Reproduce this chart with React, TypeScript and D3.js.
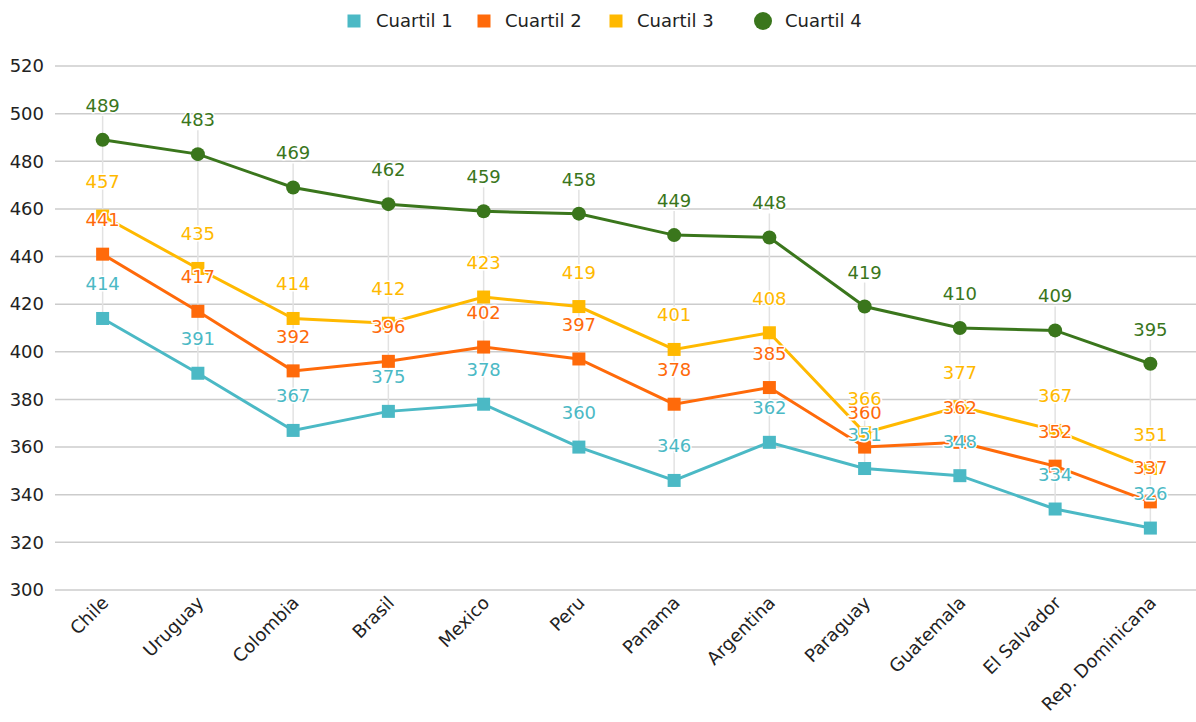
import React from "react";
import * as d3 from "d3";

const categories = ["Chile", "Uruguay", "Colombia", "Brasil", "Mexico", "Peru", "Panama", "Argentina", "Paraguay", "Guatemala", "El Salvador", "Rep. Dominicana"];
const cuartil1 = [414, 391, 367, 375, 378, 360, 346, 362, 351, 348, 334, 326];
const cuartil2 = [441, 417, 392, 396, 402, 397, 378, 385, 360, 362, 352, 337];
const cuartil3 = [457, 435, 414, 412, 423, 419, 401, 408, 366, 377, 367, 351];
const cuartil4 = [489, 483, 469, 462, 459, 458, 449, 448, 419, 410, 409, 395];
const yTicks = [300, 320, 340, 360, 380, 400, 420, 440, 460, 480, 500, 520];

const seriesNames = ["Cuartil 1", "Cuartil 2", "Cuartil 3", "Cuartil 4"];
const seriesColors = ["#4bb9c5", "#ff6a0a", "#ffb900", "#3a761c"];
const seriesShapes = ["square", "square", "square", "circle"];

const W = 1196;
const H = 722;
const FONT = "'DejaVu Sans', Verdana, sans-serif";

export default function App() {
  const series = [cuartil1, cuartil2, cuartil3, cuartil4];
  const x = d3.scalePoint<string>().domain(categories).range([55, 1198]).padding(0.5);
  const y = d3.scaleLinear().domain([300, 520]).range([590, 66]);
  const line = d3
    .line<number>()
    .x((_, i) => x(categories[i]) as number)
    .y((d) => y(d));

  const legendX = [354, 484, 616, 763];
  const legendTextX = [376, 505, 637, 785];

  return (
    <svg width={W} height={H} style={{ position: "absolute", left: 0, top: 0, background: "#fff" }} fontFamily={FONT}>
      <rect width={W} height={H} fill="#fff" />
      {/* gridlines */}
      {yTicks.map((t) => (
        <g key={t}>
          <line x1={55} x2={1196} y1={y(t)} y2={y(t)} stroke="#cccccc" strokeWidth={1.5} />
          <text x={44} y={y(t)} dy="0.35em" textAnchor="end" fontSize={18} fill="#222">
            {t}
          </text>
        </g>
      ))}
      {/* vertical leader lines */}
      {categories.map((c, i) => (
        <line
          key={c}
          x1={x(c)}
          x2={x(c)}
          y1={y(cuartil1[i])}
          y2={y(cuartil4[i]) - 24}
          stroke="#e2e2e2"
          strokeWidth={1.5}
        />
      ))}
      {/* lines and markers */}
      {series.map((s, k) => (
        <g key={k}>
          <path d={line(s) || ""} fill="none" stroke={seriesColors[k]} strokeWidth={3} />
          {s.map((v, i) =>
            seriesShapes[k] === "circle" ? (
              <circle key={i} cx={x(categories[i])} cy={y(v)} r={7} fill={seriesColors[k]} />
            ) : (
              <rect key={i} x={(x(categories[i]) as number) - 6.5} y={y(v) - 6.5} width={13} height={13} fill={seriesColors[k]} />
            )
          )}
        </g>
      ))}
      {/* data labels */}
      {series.map((s, k) => (
        <g key={"l" + k}>
          {s.map((v, i) => (
            <text
              key={i}
              x={x(categories[i])}
              y={y(v) - 28}
              textAnchor="middle"
              fontSize={18}
              fill={seriesColors[k]}
              stroke="#fff"
              strokeWidth={3}
              strokeLinejoin="round"
              paintOrder="stroke"
            >
              {v}
            </text>
          ))}
        </g>
      ))}
      {/* x axis labels */}
      {categories.map((c) => (
        <text
          key={c}
          transform={`translate(${(x(c) as number) + 7},${604}) rotate(-45)`}
          textAnchor="end"
          fontSize={18}
          fill="#222"
        >
          {c}
        </text>
      ))}
      {/* legend */}
      {seriesNames.map((n, k) => (
        <g key={n}>
          {seriesShapes[k] === "circle" ? (
            <circle cx={legendX[k]} cy={21} r={9} fill={seriesColors[k]} />
          ) : (
            <rect x={legendX[k] - 6.5} y={14.5} width={13} height={13} fill={seriesColors[k]} />
          )}
          <text x={legendTextX[k]} y={21} dy="0.35em" fontSize={18} fill="#222">
            {n}
          </text>
        </g>
      ))}
    </svg>
  );
}
